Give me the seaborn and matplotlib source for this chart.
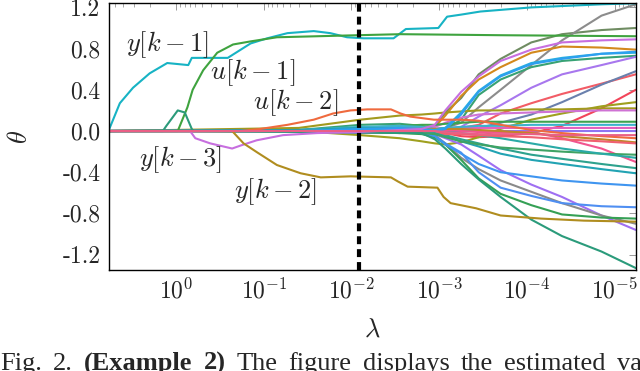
import numpy as np
import pandas as pd
import seaborn as sns
import matplotlib.pyplot as plt
from matplotlib.ticker import LogLocator, NullFormatter

# ---- data: log10(lambda) knots and coefficient values ----
# labelled paths, each with its own knots
y1_lam = [0.77, 0.64, 0.49, 0.30, 0.10, -0.14, -0.18, -0.59, -0.85, -1.04, -1.27, -1.57,
          -1.76, -1.95, -2.14, -2.48, -2.62, -2.99, -3.09, -3.25, -3.47, -4.05, -4.85, -5.24]
y1_th = [0.0, 0.27, 0.42, 0.56, 0.66, 0.64, 0.71, 0.71, 0.85, 0.90, 0.95, 0.97,
         0.95, 0.91, 0.90, 0.90, 0.99, 1.00, 1.11, 1.13, 1.16, 1.20, 1.23, 1.24]

u1_lam = [0.77, -0.02, -0.13, -0.19, -0.31, -0.47, -0.65, -0.85, -1.15, -1.61, -2.07, -2.56, -3.70, -5.24]
u1_th = [0.0, 0.0, 0.23, 0.40, 0.59, 0.76, 0.84, 0.87, 0.91, 0.92, 0.93, 0.94, 0.93, 0.92]

bump_lam = [0.77, 0.15, 0.11, -0.02, -0.10, -0.18, -0.20, -2.8, -2.95, -3.07, -3.25, -3.45,
            -3.7, -4.05, -4.4, -4.85, -5.24]
bump_th = [0.0, 0.0, 0.05, 0.20, 0.18, 0.02, 0.0, -0.02, -0.08, -0.17, -0.32, -0.47,
           -0.64, -0.86, -1.02, -1.17, -1.33]

y3_lam = [0.77, -0.16, -0.22, -0.39, -0.64, -0.74, -0.92, -1.22, -1.61, -2.07, -2.55,
          -2.8, -2.95, -3.07, -3.25, -3.45, -3.7, -4.05, -4.4, -4.85, -5.24]
y3_th = [0.0, 0.0, -0.07, -0.12, -0.17, -0.14, -0.09, -0.04, -0.02, -0.01, 0.01,
         0.02, 0.06, 0.20, 0.38, 0.53, 0.68, 0.79, 0.86, 0.88, 0.89]

y2_lam = [0.77, -0.64, -0.77, -0.93, -1.15, -1.42, -1.65, -1.99, -2.45, -2.53, -2.64,
          -2.98, -3.05, -3.13, -3.42, -3.70, -4.16, -4.65, -5.24]
y2_th = [0.0, 0.0, -0.12, -0.21, -0.33, -0.41, -0.45, -0.44, -0.45, -0.49, -0.54,
         -0.55, -0.64, -0.70, -0.75, -0.82, -0.85, -0.87, -0.88]

u2_lam = [0.77, -0.73, -0.96, -1.27, -1.57, -1.79, -1.99, -2.18, -2.45, -2.56, -2.67,
          -2.94, -3.25, -3.45, -3.70, -4.05, -4.40, -4.85, -5.24]
u2_th = [0.0, 0.0, 0.02, 0.06, 0.11, 0.17, 0.20, 0.21, 0.21, 0.17, 0.14,
         0.11, 0.11, 0.10, 0.06, 0.01, -0.02, -0.05, -0.07]

# the other coefficients share one grid
fan_lam = [0.77, -1.4, -2.1, -2.55, -2.8, -2.95, -3.07, -3.25, -3.45, -3.7, -4.05, -4.4, -4.85, -5.24]
f_olivegray = [0, 0.0, 0.02, 0.03, 0.03, 0.05, 0.18, 0.32, 0.55, 0.70, 0.86, 0.94, 0.98, 1.00]
f_gray = [0, 0, 0.0, -0.02, 0.0, 0.01, 0.03, 0.08, 0.23, 0.40, 0.64, 0.88, 1.12, 1.23]
f_orange = [0, 0, 0.01, 0.02, 0.03, 0.04, 0.15, 0.34, 0.50, 0.62, 0.76, 0.82, 0.81, 0.79]
f_blue = [0, 0, 0.02, 0.03, 0.02, 0.0, 0.02, 0.16, 0.38, 0.53, 0.65, 0.70, 0.75, 0.77]
f_sky = [0, 0, 0.01, 0.02, 0.02, 0.01, 0.03, 0.18, 0.39, 0.54, 0.66, 0.71, 0.75, 0.76]
f_teal = [0, 0.01, 0.06, 0.07, 0.05, 0.01, 0.02, 0.11, 0.35, 0.50, 0.62, 0.68, 0.71, 0.73]
f_violet = [0, 0, 0.0, 0.01, 0.02, 0.02, 0.02, 0.04, 0.14, 0.25, 0.42, 0.55, 0.64, 0.72]
f_salmon = [0, 0, 0.01, 0.02, 0.02, 0.02, 0.03, 0.03, 0.06, 0.17, 0.27, 0.36, 0.46, 0.55]
f_slate = [0, 0, 0.0, 0.0, 0.01, 0.0, 0.0, 0.0, 0.03, 0.08, 0.16, 0.28, 0.45, 0.58]
f_red = [0, 0, 0.01, 0.02, 0.02, 0.02, -0.02, -0.05, -0.06, -0.05, -0.02, 0.05, 0.22, 0.40]
f_olive_lo = [0, 0.0, -0.04, -0.07, -0.10, -0.12, -0.13, -0.11, -0.06, 0.02, 0.11, 0.17, 0.24, 0.28]
f_olive_hi = [0, 0.03, 0.11, 0.15, 0.16, 0.17, 0.18, 0.19, 0.20, 0.20, 0.21, 0.21, 0.22, 0.22]
f_orchid = [0, 0, 0.01, 0.02, 0.03, 0.04, 0.08, 0.13, 0.16, 0.17, 0.18, 0.19, 0.20, 0.20]
f_green = [0, 0.01, 0.03, 0.05, 0.06, 0.06, 0.07, 0.08, 0.09, 0.09, 0.09, 0.09, 0.09, 0.09]
f_magenta = [0, 0, 0.01, 0.02, 0.02, 0.02, 0.03, 0.03, 0.03, 0.03, 0.03, 0.03, 0.03, 0.03]
f_purple = [0, 0, 0.0, 0.01, 0.01, 0.01, 0.0, 0.0, 0.0, 0.0, 0.0, 0.0, 0.0, 0.0]
f_cyan = [0, 0.01, 0.04, 0.05, 0.04, 0.02, 0.03, 0.04, 0.05, 0.05, 0.06, 0.06, 0.06, 0.06]
n_violet = [0, 0, -0.02, -0.01, 0.0, -0.03, -0.07, -0.13, -0.24, -0.38, -0.52, -0.64, -0.82, -0.96]
n_gray = [0, 0, 0.0, 0.0, 0.0, -0.04, -0.12, -0.26, -0.37, -0.48, -0.59, -0.70, -0.82, -0.90]
n_blue_lo = [0, 0, 0.0, -0.01, -0.02, -0.05, -0.12, -0.21, -0.40, -0.55, -0.63, -0.70, -0.73, -0.74]
n_green_lo = [0, 0, -0.01, -0.02, -0.03, -0.06, -0.13, -0.28, -0.46, -0.61, -0.72, -0.81, -0.84, -0.85]
n_blue_hi = [0, 0, 0.0, -0.01, -0.02, -0.05, -0.13, -0.22, -0.32, -0.40, -0.44, -0.48, -0.51, -0.53]
n_teal = [0, 0.01, 0.03, 0.02, 0.01, -0.02, -0.05, -0.10, -0.15, -0.22, -0.28, -0.32, -0.37, -0.41]
n_teal2 = [0, 0, 0.01, 0.01, 0.0, -0.02, -0.04, -0.08, -0.12, -0.17, -0.23, -0.27, -0.32, -0.36]
n_pink = [0, 0, 0.0, 0.01, 0.02, 0.02, 0.01, 0.0, -0.01, -0.01, -0.01, -0.07, -0.17, -0.30]
n_green = [0, 0, -0.01, -0.01, -0.02, -0.03, -0.06, -0.10, -0.13, -0.16, -0.18, -0.20, -0.22, -0.23]
n_teal3 = [0, 0, 0.0, 0.0, 0.0, 0.0, -0.01, -0.02, -0.04, -0.07, -0.12, -0.17, -0.22, -0.26]
n_brown = [0, 0, 0.01, 0.02, 0.02, 0.02, 0.02, 0.02, 0.01, 0.0, -0.02, -0.05, -0.08, -0.11]
n_red = [0, 0, 0.0, 0.0, 0.0, 0.0, -0.03, -0.03, -0.04, -0.05, -0.06, -0.08, -0.10, -0.12]
n_rose = [0, 0, 0, 0.0, 0.0, 0.0, -0.01, -0.02, -0.03, -0.03, -0.03, -0.04, -0.04, -0.04]

lam_cut = 10 ** -2.09  # selected lambda (dashed line)
x_ticks = [1, 1e-1, 1e-2, 1e-3, 1e-4, 1e-5]
x_ticklabels = [r'$10^{0}$', r'$10^{-1}$', r'$10^{-2}$', r'$10^{-3}$', r'$10^{-4}$', r'$10^{-5}$']
y_ticks = [-1.2, -0.8, -0.4, 0.0, 0.4, 0.8, 1.2]
y_ticklabels = ['-1.2', '-0.8', '-0.4', '0.0', '0.4', '0.8', '1.2']
caption_words = [('Fig.', 'normal'), ('2.', 'normal'), ('(Example', 'bold'), ('2)', 'bold'),
                 ('The', 'normal'), ('figure', 'normal'), ('displays', 'normal'),
                 ('the', 'normal'), ('estimated', 'normal'), ('values', 'normal')]

fan_lines = [
    ('f_olivegray', f_olivegray, '#6f8c62'), ('f_gray', f_gray, '#8c8c8c'),
    ('f_orange', f_orange, '#d3891c'), ('f_teal', f_teal, '#38a274'),
    ('f_violet', f_violet, '#a877ee'), ('f_salmon', f_salmon, '#f25c66'),
    ('f_slate', f_slate, '#6a80ad'), ('f_red', f_red, '#f2455a'),
    ('f_olive_lo', f_olive_lo, '#9fa01f'), ('f_olive_hi', f_olive_hi, '#a29a1e'),
    ('f_orchid', f_orchid, '#cf72d4'), ('f_green', f_green, '#3ea34e'),
    ('f_magenta', f_magenta, '#e25fbf'), ('f_purple', f_purple, '#8f74f2'),
    ('f_cyan', f_cyan, '#3bb2cc'),
    ('n_violet', n_violet, '#9f6ff2'), ('n_gray', n_gray, '#8a8a8a'),
    ('n_blue_lo', n_blue_lo, '#4f8ff2'), ('n_green_lo', n_green_lo, '#35a055'),
    ('n_blue_hi', n_blue_hi, '#3f95f0'), ('n_teal', n_teal, '#22a3b3'),
    ('n_teal2', n_teal2, '#2ea28e'), ('n_pink', n_pink, '#f2558f'),
    ('n_green', n_green, '#3fa364'), ('n_teal3', n_teal3, '#2aaaa6'),
    ('n_brown', n_brown, '#c0852a'), ('n_red', n_red, '#f06070'),
    ('f_sky', f_sky, '#27aee0'), ('f_blue', f_blue, '#2d9ff0'),
]
own_lines = [
    ('y1', y1_lam, y1_th, '#17b3c4'), ('u1', u1_lam, u1_th, '#3fa33f'),
    ('bump', bump_lam, bump_th, '#2b9b7b'), ('y3', y3_lam, y3_th, '#c76fdf'),
    ('y2', y2_lam, y2_th, '#b08d1f'), ('u2', u2_lam, u2_th, '#ef6a3e'),
]

rows = []
palette = {}
for name, vals, col in fan_lines:
    for l, v in zip(fan_lam, vals):
        rows.append((name, 10 ** l, v))
    palette[name] = col
for name, lams, vals, col in own_lines:
    for l, v in zip(lams, vals):
        rows.append((name, 10 ** l, v))
    palette[name] = col
for l, v in zip(fan_lam, n_rose):
    rows.append(('n_rose', 10 ** l, v))
palette['n_rose'] = '#ea5f86'
df = pd.DataFrame(rows, columns=['line', 'lam', 'theta'])
order = [n for n, _, _ in fan_lines] + [n for n, _, _, _ in own_lines] + ['n_rose']

sns.set_theme(style='white')
plt.rcParams['font.family'] = ['cmr10', 'DejaVu Sans']
plt.rcParams['mathtext.fontset'] = 'cm'
plt.rcParams['axes.formatter.use_mathtext'] = True

fig, ax = plt.subplots(figsize=(6.4, 3.71), dpi=100)
fig.subplots_adjust(left=0.170, right=0.994, top=0.992, bottom=0.272)

sns.lineplot(data=df, x='lam', y='theta', hue='line', hue_order=order, palette=palette,
             estimator=None, sort=False, legend=False, linewidth=1.5, ax=ax)
ax.axvline(lam_cut, color='black', linewidth=3, linestyle=(0, (1.9, 1.2)))

ax.set_xscale('log')
ax.set_xlim(10 ** 0.766, 10 ** -5.245)
ax.set_ylim(-1.35, 1.243)
ax.set_xticks(x_ticks, x_ticklabels)
ax.xaxis.set_minor_locator(LogLocator(base=10, subs=np.arange(2, 10), numticks=20))
ax.xaxis.set_minor_formatter(NullFormatter())
ax.set_yticks(y_ticks, y_ticklabels)
ax.tick_params(which='both', direction='in', top=True, right=True, color='0.6', labelsize=17)
ax.tick_params(which='major', length=5, width=0.7, pad=6)
ax.tick_params(which='minor', length=3, width=0.6)
for s in ax.spines.values():
    s.set_color('black')
    s.set_linewidth(1.0)

ax.set_xlabel(r'$\lambda$', fontsize=19, labelpad=10)
ax.set_ylabel(r'$\theta$', fontsize=19, labelpad=22)

label_kw = dict(fontsize=19, ha='center', va='center')
ax.text(10 ** 0.10, 0.835, r'$y[k-1]$', **label_kw)
ax.text(10 ** -0.87, 0.563, r'$u[k-1]$', **label_kw)
ax.text(10 ** -1.36, 0.272, r'$u[k-2]$', **label_kw)
ax.text(10 ** -0.05, -0.28, r'$y[k-3]$', **label_kw)
ax.text(10 ** -1.13, -0.59, r'$y[k-2]$', **label_kw)

# caption, justified and cut off at the bottom of the image as in the source
prev = fig.text(0.0, 0.048, caption_words[0][0], fontsize=19, family='Liberation Serif',
                va='top', weight=caption_words[0][1])
for word, w in caption_words[1:]:
    prev = ax.annotate(word, xy=(1, 0), xycoords=prev, xytext=(8, 0), textcoords='offset points',
                       va='bottom', fontsize=19, family='Liberation Serif', weight=w,
                       annotation_clip=False)

fig.savefig('out.png', dpi=100)
